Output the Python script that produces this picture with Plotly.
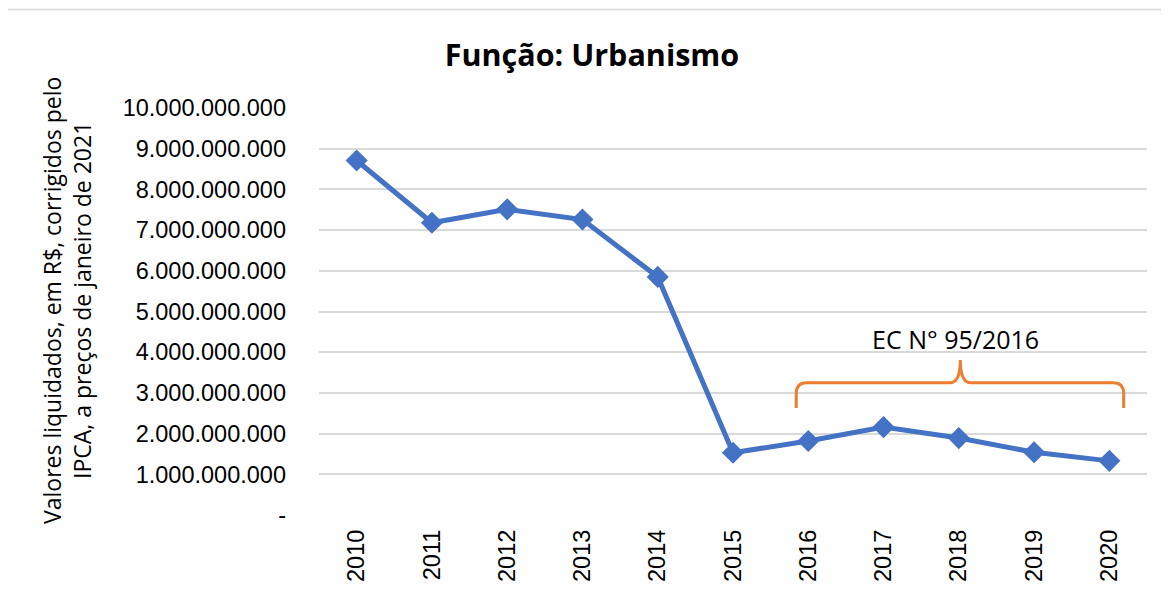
import plotly.graph_objects as go

years = [2010, 2011, 2012, 2013, 2014, 2015, 2016, 2017, 2018, 2019, 2020]
valores = [8.71e9, 7.18e9, 7.51e9, 7.26e9, 5.85e9, 1.53e9, 1.82e9, 2.16e9, 1.89e9, 1.54e9, 1.33e9]
ytick_vals = [0, 1e9, 2e9, 3e9, 4e9, 5e9, 6e9, 7e9, 8e9, 9e9, 10e9]
ytick_text = ["-", "1.000.000.000", "2.000.000.000", "3.000.000.000", "4.000.000.000",
              "5.000.000.000", "6.000.000.000", "7.000.000.000", "8.000.000.000",
              "9.000.000.000", "10.000.000.000"]
titulo = "Função: Urbanismo"
ytitle = "Valores liquidados, em R$, corrigidos pelo<br>IPCA, a preços de janeiro de 2021"
nota = "EC N° 95/2016"

# brace annotation geometry (data coordinates)
bx0, bx1, bmid = 2015.84, 2020.19, 2018.02
by_bot, by_line, by_peak = 2.63e9, 3.25e9, 3.81e9

fig = go.Figure()
fig.add_trace(go.Scatter(
    x=years, y=valores, mode="lines+markers",
    line=dict(color="#4472C4", width=5),
    marker=dict(symbol="diamond", size=17, color="#4472C4"),
    showlegend=False,
))

r = 0.14
cy = by_line - 0.27e9
path = (f"M {bx0},{by_bot} L {bx0},{cy} Q {bx0},{by_line} {bx0 + r},{by_line} "
        f"L {bmid - r},{by_line} Q {bmid},{by_line} {bmid},{by_peak} "
        f"Q {bmid},{by_line} {bmid + r},{by_line} L {bx1 - r},{by_line} "
        f"Q {bx1},{by_line} {bx1},{cy} L {bx1},{by_bot}")
fig.add_shape(type="path", path=path, xref="x", yref="y",
              line=dict(color="#ED7D31", width=3))

fig.add_annotation(x=2017.95, y=4.33e9, xref="x", yref="y", text=nota,
                   showarrow=False, font=dict(family="Open Sans", size=25, color="#000000"))

fig.add_annotation(x=-0.3045, y=0.528, xref="paper", yref="paper", text=ytitle,
                   textangle=-90, showarrow=False, xanchor="center", yanchor="middle",
                   font=dict(family="Open Sans", size=23, color="#000000"))

# outer chart border
fig.add_shape(type="rect", xref="paper", yref="paper",
              x0=-0.3767, x1=1.05, y0=-0.3, y1=1.242,
              line=dict(color="#D9D9D9", width=1.5), layer="below")

fig.update_layout(
    width=1161, height=589,
    margin=dict(l=311.4, r=22.4, t=99.5, b=81.5),
    paper_bgcolor="white", plot_bgcolor="white",
    title=dict(text=f"<b>{titulo}</b>", x=0.503, xanchor="center", xref="container",
               y=0.920, yanchor="middle",
               font=dict(family="Open Sans", size=30.5, color="#000000")),
    xaxis=dict(
        range=[2009.5, 2020.5], tickmode="array", tickvals=years,
        ticktext=[str(y) for y in years], tickangle=-90,
        showgrid=False, zeroline=False, showline=False, ticks="",
        ticklabelstandoff=9,
        tickfont=dict(family="Liberation Sans", size=23.5, color="#000000"),
    ),
    yaxis=dict(
        range=[0, 10e9], tickmode="array", tickvals=ytick_vals, ticktext=ytick_text,
        showgrid=True, gridcolor="#D9D9D9", gridwidth=1.5, zeroline=False,
        showline=False, ticks="", ticklabelstandoff=32,
        tickfont=dict(family="Liberation Sans", size=23.5, color="#000000"),
    ),
)

fig.write_html("out.html")
